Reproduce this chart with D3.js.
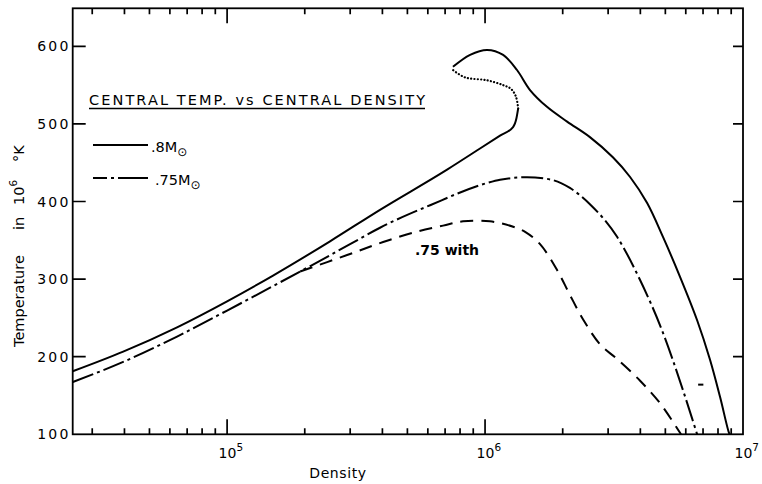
<!DOCTYPE html>
<html><head><meta charset="utf-8">
<script src="https://cdn.jsdelivr.net/npm/d3@7"></script>
<style>body{margin:0;background:#fff}</style>
</head><body>
<svg id="chart" width="762" height="484"></svg>
<script>
// ---- data ----
// .8 solar mass track: lower solid branch, dotted loop, upper solid branch
const m08LowerDensity = [25200, 39550, 63970, 100000, 150700, 250600, 391500, 712600, 956000, 1143000, 1284000, 1324000, 1344000];
const m08LowerTemp    = [181.3, 206.6, 237.9, 271.4, 304.6, 348.7, 389.3, 441.1, 468.3, 485, 496, 507.6, 520];
const m08DottedDensity = [1344000, 1318000, 1262000, 1175000, 1018000, 836000, 751000];
const m08DottedTemp    = [520, 535, 545, 550, 556.2, 560, 569.5];
const m08UpperDensity = [751000, 875000, 1018000, 1175000, 1330000, 1494000, 1738000, 2080000, 2550000, 3130000, 3650000, 4250000, 4900000, 5700000, 6640000, 7450000, 8150000, 8830000, 8900000];
const m08UpperTemp    = [573.6, 589, 595.4, 589, 569.5, 543.7, 522, 503, 483, 457, 431.6, 398, 354, 303, 247, 196, 148, 101.7, 100];
// .75 solar mass track (dash-dot)
const m075Density = [25200, 39550, 63970, 100000, 150700, 215400, 299700, 391500, 612200, 1018000, 1143000, 1455000, 1786000, 2133000, 2550000, 3250000, 3990000, 4900000, 5850000, 6640000];
const m075Temp    = [167.4, 193.3, 226, 259.5, 291, 318.8, 345, 366.2, 395.2, 423.8, 428, 431.4, 428.5, 417.5, 396.5, 354.5, 298.8, 230.5, 157, 100];
// ".75 with" track (dashed)
const m075wDensity = [191900, 291900, 402600, 544500, 687700, 821800, 1045000, 1285000, 1430000, 1634000, 1900000, 2130000, 2400000, 2790000, 3250000, 3990000, 4770000, 5750000];
const m075wTemp    = [309.8, 331, 347.8, 361.2, 368.9, 374.5, 374.5, 367.5, 361, 345, 312, 280, 248, 216, 197, 169, 140, 100];
// small isolated mark near the lower right
const markDensity = [6700000, 7020000];
const markTemp    = [164, 164];
// axes
const densityDomain = [25200, 1e7];
const tempDomain = [100, 649];
const tempTicks = [100, 200, 300, 400, 500, 600];
const densityMajor = [1e5, 1e6, 1e7];
const densityMajorExp = ["5", "6", "7"];
const densityMinor = [3e4,4e4,5e4,6e4,7e4,8e4,9e4, 2e5,3e5,4e5,5e5,6e5,7e5,8e5,9e5, 2e6,3e6,4e6,5e6,6e6,7e6,8e6,9e6];
const titleText = "CENTRAL TEMP. vs CENTRAL DENSITY";
const legendLabels = [".8", ".75"];

// ---- drawing ----
const FONT = "DejaVu Sans, Liberation Sans, sans-serif";
const svg = d3.select("#chart");
const L = 72.7, R = 743, T = 8.3, B = 434.3;
const x = d3.scaleLog().domain(densityDomain).range([L, R]);
const y = d3.scaleLinear().domain(tempDomain).range([B, T]);

function zip(a, b) { return a.map((v, i) => [v, b[i]]); }
const lineM = d3.line().x(d => x(d[0])).y(d => y(d[1])).curve(d3.curveMonotoneX);
const lineC = d3.line().x(d => x(d[0])).y(d => y(d[1])).curve(d3.curveCatmullRom.alpha(0.5));

// tick marks (inward), built from the scales
const xTickData = densityMinor.map(v => ({v, len: 6})).concat(densityMajor.slice(0, 2).map(v => ({v, len: 15})));
let tp = "";
xTickData.forEach(d => {
  const px = x(d.v);
  tp += `M${px},${B}V${B - d.len}M${px},${T}V${T + d.len}`;
});
tempTicks.slice(1).forEach(v => {
  const py = y(v);
  tp += `M${L},${py}H${L + 13}M${R},${py}H${R - 10}`;
});
svg.append("path").attr("d", tp).attr("fill", "none").attr("stroke", "#000").attr("stroke-width", 1.7);

// y tick labels
svg.selectAll("text.ylab").data(tempTicks).join("text").attr("class", "ylab")
  .attr("x", 70.5).attr("y", d => y(d)).attr("dy", "0.36em").attr("text-anchor", "end")
  .attr("font-family", FONT).attr("font-size", 14).attr("letter-spacing", 2.2).attr("fill", "#000")
  .text(d => d);

// frame
svg.append("rect").attr("x", L).attr("y", T).attr("width", R - L).attr("height", B - T)
  .attr("fill", "none").attr("stroke", "#000").attr("stroke-width", 1.8);

// x tick labels with superscripts
densityMajor.forEach((v, i) => {
  const t = svg.append("text").attr("x", x(v) - 8.5).attr("y", B + 24)
    .attr("font-family", FONT).attr("font-size", 14).attr("fill", "#000");
  t.append("tspan").text("10");
  t.append("tspan").attr("dy", -7).attr("font-size", 10.5).text(densityMajorExp[i]);
});

// axis titles
svg.append("text").attr("x", 338).attr("y", 478).attr("text-anchor", "middle")
  .attr("font-family", FONT).attr("font-size", 14).attr("letter-spacing", 0.6).text("Density");
const yl = svg.append("text").attr("transform", "translate(24,347) rotate(-90)")
  .attr("font-family", FONT).attr("font-size", 14.5).attr("fill", "#000");
yl.append("tspan").attr("x", 0).text("Temperature");
yl.append("tspan").attr("x", 117).text("in");
yl.append("tspan").attr("x", 142).text("10");
yl.append("tspan").attr("dy", -7).attr("font-size", 10.5).text("6");
yl.append("tspan").attr("x", 185).attr("dy", 7).text("°K");

// curves
const curves = svg.append("g").attr("fill", "none").attr("stroke", "#000").attr("stroke-width", 2);
curves.append("path").attr("d", lineM(zip(m08LowerDensity, m08LowerTemp)));
curves.append("path").attr("d", lineC(zip(m08DottedDensity, m08DottedTemp)))
  .attr("stroke-dasharray", "0.1,3.2").attr("stroke-linecap", "round").attr("stroke-width", 2.2);
curves.append("path").attr("d", lineC(zip(m08UpperDensity, m08UpperTemp)));
curves.append("path").attr("d", lineM(zip(m075Density, m075Temp))).attr("stroke-dasharray", "22,4,3,4");
curves.append("path").attr("d", lineC(zip(m075wDensity, m075wTemp))).attr("stroke-dasharray", "13,8");
curves.append("path").attr("d", d3.line().x(d => x(d[0])).y(d => y(d[1]))(zip(markDensity, markTemp)));

// title + legend
svg.append("text").attr("x", 89).attr("y", 105).attr("textLength", 336).attr("lengthAdjust", "spacing")
  .attr("font-family", FONT).attr("font-size", 14.5).attr("fill", "#000").text(titleText);
svg.append("line").attr("x1", 89).attr("x2", 425).attr("y1", 108.5).attr("y2", 108.5)
  .attr("stroke", "#000").attr("stroke-width", 1.5);
const legendY = [145, 178];
legendLabels.forEach((lab, i) => {
  const ln = svg.append("line").attr("x1", 93).attr("x2", 148).attr("y1", legendY[i]).attr("y2", legendY[i])
    .attr("stroke", "#000").attr("stroke-width", 2);
  if (i === 1) ln.attr("stroke-dasharray", "14,4,3,4,40");
  const t = svg.append("text").attr("x", i === 0 ? 151 : 155).attr("y", legendY[i] + 7)
    .attr("font-family", FONT).attr("font-size", 14.5).attr("fill", "#000");
  t.append("tspan").text(lab + "M");
  t.append("tspan").attr("dy", 4).attr("font-size", 12).text("⊙");
});

// ".75 with" annotation
svg.append("text").attr("x", 415).attr("y", 255).attr("font-family", FONT)
  .attr("font-size", 14).attr("font-weight", "bold").attr("fill", "#000").text(".75 with");
</script>
</body></html>
